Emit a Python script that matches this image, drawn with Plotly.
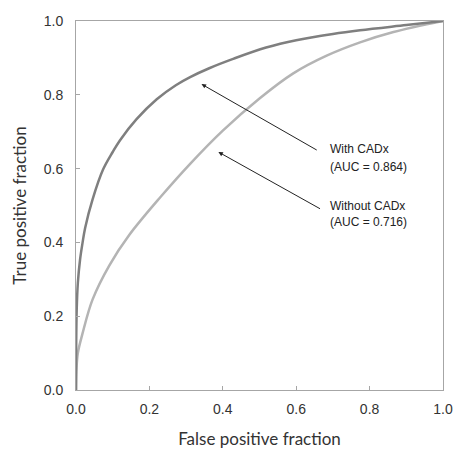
import plotly.graph_objects as go

# With CADx ROC curve
with_fpf = [0.0, 0.0005, 0.002, 0.005, 0.011, 0.018, 0.025, 0.045, 0.074, 0.10, 0.120, 0.165,
            0.220, 0.272, 0.311, 0.363, 0.43, 0.518, 0.60, 0.70, 0.774, 0.90, 1.0]
with_tpf = [0.0, 0.12, 0.22, 0.29, 0.353, 0.40, 0.44, 0.516, 0.598, 0.645, 0.677, 0.734,
            0.788, 0.826, 0.848, 0.872, 0.898, 0.928, 0.948, 0.965, 0.975, 0.989, 1.0]

# Without CADx ROC curve
without_fpf = [0.0, 0.001, 0.005, 0.018, 0.045, 0.091, 0.145, 0.232, 0.311, 0.40, 0.50,
               0.592, 0.683, 0.774, 0.865, 1.0]
without_tpf = [0.0, 0.05, 0.10, 0.154, 0.245, 0.338, 0.420, 0.525, 0.613, 0.703, 0.790,
               0.858, 0.906, 0.942, 0.970, 1.0]

tick_vals = [0.0, 0.2, 0.4, 0.6, 0.8, 1.0]
tick_text = ["0.0", "0.2", "0.4", "0.6", "0.8", "1.0"]

fig = go.Figure()
fig.add_trace(go.Scatter(x=without_fpf, y=without_tpf, mode="lines",
                         line=dict(color="#b4b4b4", width=2.5, shape="spline", smoothing=1.0),
                         showlegend=False, hoverinfo="skip"))
fig.add_trace(go.Scatter(x=with_fpf, y=with_tpf, mode="lines",
                         line=dict(color="#7f7f7f", width=2.5, shape="spline", smoothing=1.0),
                         showlegend=False, hoverinfo="skip"))

axis_common = dict(range=[0, 1], tickvals=tick_vals, ticktext=tick_text, automargin=False,
                   showgrid=False, zeroline=False, showline=True, mirror=True,
                   linecolor="#a6a6a6", linewidth=1, ticks="inside", ticklen=4,
                   tickcolor="#a6a6a6",
                   tickfont=dict(family="Liberation Sans, Arial", size=14, color="#333333"))

title_font = dict(family="Lato, Carlito, Calibri", size=17, color="#333333")

fig.update_layout(
    template="none",
    width=454, height=449,
    margin=dict(l=76, r=11, t=21, b=59),
    paper_bgcolor="white", plot_bgcolor="white",
    xaxis=dict(**axis_common, ticklabelstandoff=6,
               title=dict(text="False positive fraction", font=title_font, standoff=19)),
    yaxis=dict(**axis_common, ticklabelstandoff=9,
               title=dict(text="True positive fraction", font=title_font, standoff=12)),
)

ann_font = dict(family="Liberation Sans, Arial", size=12, color="#222222")
# arrows
fig.add_annotation(x=0.342, y=0.829, ax=0.66, ay=0.648, xref="x", yref="y", axref="x", ayref="y",
                   showarrow=True, arrowhead=2, arrowsize=0.9, arrowwidth=1, arrowcolor="#222222", text="")
fig.add_annotation(x=0.388, y=0.645, ax=0.669, ay=0.489, xref="x", yref="y", axref="x", ayref="y",
                   showarrow=True, arrowhead=2, arrowsize=0.9, arrowwidth=1, arrowcolor="#222222", text="")
# labels
for txt, yv in [("With CADx", 0.652), ("(AUC = 0.864)", 0.603),
                ("Without CADx", 0.498), ("(AUC = 0.716)", 0.455)]:
    fig.add_annotation(x=0.687, y=yv, xref="x", yref="y", text=txt, showarrow=False,
                       xanchor="left", yanchor="middle", font=ann_font)

# remove the default 8px page margin so the figure sits at the window's corner
fig.write_html("out.html", config={"displayModeBar": False},
               post_script="document.body.style.margin='0';document.body.style.overflow='hidden';")
